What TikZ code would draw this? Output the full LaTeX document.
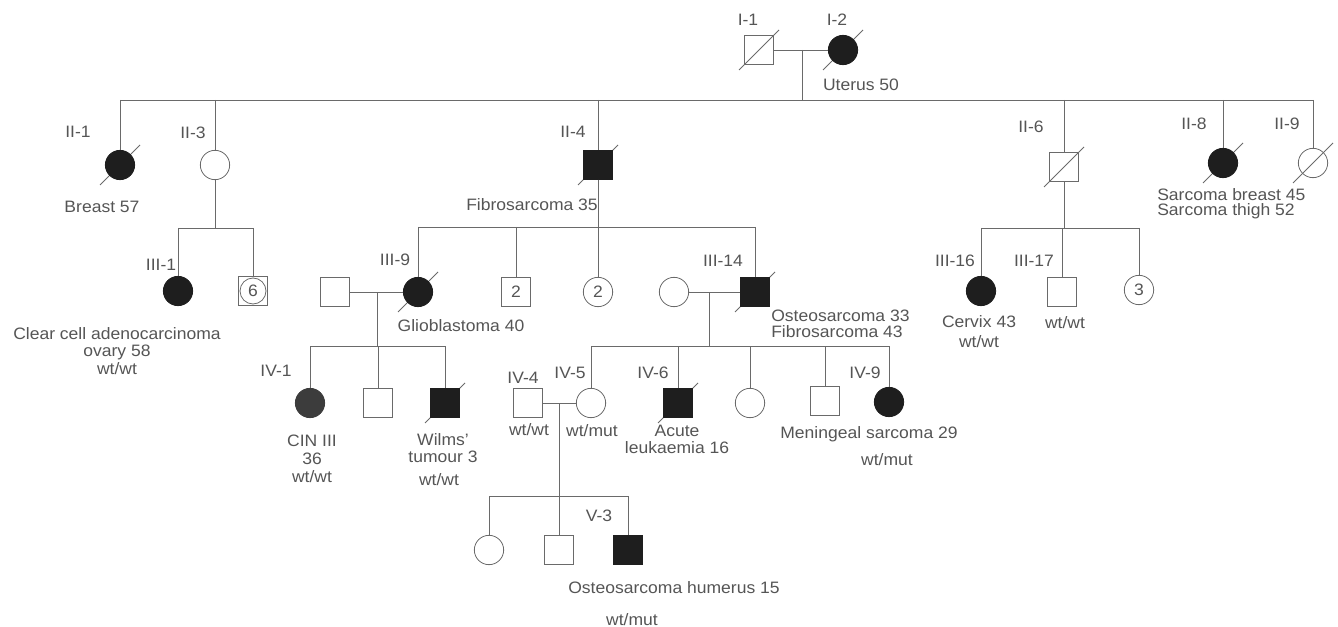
\documentclass[tikz,border=0pt]{standalone}
\usepackage{fontspec}
\setmainfont{Liberation Sans}[FakeStretch=1.06]
\definecolor{ln}{HTML}{6A6A6A}
\definecolor{tx}{HTML}{555555}
\definecolor{fl}{HTML}{1E1E1E}
\definecolor{flg}{HTML}{3C3C3C}
\pgfdeclarelayer{background}
\pgfsetlayers{background,main}
\newcommand\dead[1]{\begin{pgfonlayer}{background}\draw[slash] ([shift={(-20,20)}]#1.center) -- ([shift={(20,-20)}]#1.center);\end{pgfonlayer}}
\begin{document}
\begin{tikzpicture}[x=0.75pt,y=-0.75pt,
  every node/.style={inner sep=0pt},
  conn/.style={draw=ln, line width=0.6pt},
  male/.style={draw=ln, line width=0.6pt, rectangle, minimum size=21.5pt, text=tx, font=\fontsize{12.4}{13}\selectfont},
  female/.style={draw=ln, line width=0.6pt, circle, minimum size=22pt, text=tx, font=\fontsize{12.4}{13}\selectfont},
  aff/.style={fill=fl, draw=fl},
  idl/.style={text=tx, font=\fontsize{12.4}{13}\selectfont, align=center},
  slash/.style={draw=ln, line width=0.6pt}]
\useasboundingbox (0,0) rectangle (1338,627);

% ---------- Generation I
\node[male] (I1) at (759,50) {};
\node[female,aff] (I2) at (843,50) {};
\coordinate (mI) at (802,50);
\coordinate (sII) at (802,100);
\dead{I1}\dead{I2}
\node[idl] (lI1) at (748,20) {I-1};
\node[idl] (lI2) at (837,20) {I-2};
\node[idl] (tI2) at (861,85) {Uterus 50};
\draw[conn] (I1) -- (I2);
\draw[conn] (mI) -- (sII);

% ---------- Generation II
\node[female,aff] (II1) at (120,165) {};
\node[female] (II3) at (215,165) {};
\node[male,aff] (II4) at (598,165) {};
\node[male] (II6) at (1064,167) {};
\node[female,aff] (II8) at (1223,163) {};
\node[female] (II9) at (1313,163) {};
\dead{II1}\dead{II4}\dead{II6}\dead{II8}\dead{II9}
\draw[conn] (II1.north |- sII) -- (II9.north |- sII);
\foreach \n in {II1,II3,II4,II6,II8,II9} \draw[conn] (\n.north |- sII) -- (\n.north);
\node[idl] (lII1) at (78,132) {II-1};
\node[idl] (lII3) at (193,133) {II-3};
\node[idl] (lII4) at (573,132) {II-4};
\node[idl] (lII6) at (1031,127) {II-6};
\node[idl] (lII8) at (1194,124) {II-8};
\node[idl] (lII9) at (1287,124) {II-9};
\node[idl] (tII1) at (102,207) {Breast 57};
\node[idl] (tII4) at (532,205) {Fibrosarcoma 35};
\node[idl, align=left, anchor=west, font=\fontsize{12.4}{11.3}\selectfont] (tII8) at (1157,204) {Sarcoma breast 45\\Sarcoma thigh 52};

% ---------- Generation III
\coordinate (sIII3) at (215,228);
\coordinate (sIII4) at (598,227);
\coordinate (sIII6) at (1064,228);
\node[female,aff] (III1) at (178,291) {};
\node[male] (U6) at (253,291) {};
\node[circle, draw=ln, line width=0.6pt, minimum size=19.5pt, text=tx, font=\fontsize{12.4}{13}\selectfont] (U6c) at (U6.center) {6};
\node[male] (SP9) at (335,292) {};
\node[female,aff] (III9) at (418,292) {};
\node[male] (B2) at (516,292) {2};
\node[female] (C2) at (598,292) {2};
\node[female] (SP14) at (674,292) {};
\node[male,aff] (III14) at (755,292) {};
\node[female,aff] (III16) at (981,291) {};
\node[male] (III17) at (1062,292) {};
\node[female] (C3) at (1139,290) {3};
\dead{III9}\dead{III14}

\draw[conn] (II3) -- (sIII3);
\draw[conn] (III1.north |- sIII3) -- (U6.north |- sIII3);
\foreach \n in {III1,U6} \draw[conn] (\n.north |- sIII3) -- (\n.north);
\draw[conn] (II4) -- (sIII4);
\draw[conn] (III9.north |- sIII4) -- (III14.north |- sIII4);
\foreach \n in {III9,B2,C2,III14} \draw[conn] (\n.north |- sIII4) -- (\n.north);
\draw[conn] (II6) -- (sIII6);
\draw[conn] (III16.north |- sIII6) -- (C3.north |- sIII6);
\foreach \n in {III16,III17,C3} \draw[conn] (\n.north |- sIII6) -- (\n.north);

\node[idl] (lIII1) at (161,265) {III-1};
\node[idl] (lIII9) at (395,260) {III-9};
\node[idl] (lIII14) at (723,261) {III-14};
\node[idl] (lIII16) at (955,261) {III-16};
\node[idl] (lIII17) at (1034,261) {III-17};
\node[idl, font=\fontsize{12.4}{13.1}\selectfont] (tIII1) at (117,351) {Clear cell adenocarcinoma\\ovary 58\\wt/wt};
\node[idl] (tIII9) at (461,326) {Glioblastoma 40};
\node[idl, align=left, anchor=west, font=\fontsize{12.4}{12}\selectfont] (tIII14) at (771,324) {Osteosarcoma 33\\Fibrosarcoma 43};
\node[idl, font=\fontsize{12.4}{15}\selectfont] (tIII16) at (979,332) {Cervix 43\\wt/wt};
\node[idl] (tIII17) at (1065,323) {wt/wt};

% ---------- Generation IV
\coordinate (mIII9) at (377,292);
\coordinate (sIV9) at (377,346);
\coordinate (mIII14) at (709,292);
\coordinate (sIV14) at (709,346);
\draw[conn] (SP9) -- (III9);
\draw[conn] (mIII9) -- (sIV9);
\draw[conn] (SP14) -- (III14);
\draw[conn] (mIII14) -- (sIV14);

\node[female, fill=flg, draw=flg] (IV1) at (310,403) {};
\node[male] (IV2) at (378,403) {};
\node[male,aff] (IV3) at (445,403) {};
\node[male] (IV4) at (528,403) {};
\node[female] (IV5) at (591,403) {};
\node[male,aff] (IV6) at (678,403) {};
\node[female] (IV7) at (750,403) {};
\node[male] (IV8) at (825,401) {};
\node[female,aff] (IV9) at (889,402) {};
\dead{IV3}\dead{IV6}

\draw[conn] (IV1.north |- sIV9) -- (IV3.north |- sIV9);
\foreach \n in {IV1,IV2,IV3} \draw[conn] (\n.north |- sIV9) -- (\n.north);
\draw[conn] (IV5.north |- sIV14) -- (IV9.north |- sIV14);
\foreach \n in {IV5,IV6,IV7,IV8,IV9} \draw[conn] (\n.north |- sIV14) -- (\n.north);

\node[idl] (lIV1) at (276,371) {IV-1};
\node[idl] (lIV4) at (523,378) {IV-4};
\node[idl] (lIV5) at (570,373) {IV-5};
\node[idl] (lIV6) at (653,373) {IV-6};
\node[idl] (lIV9) at (865,373) {IV-9};
\node[idl, font=\fontsize{12.4}{13.5}\selectfont] (tIV1) at (312,459) {CIN III\\36\\wt/wt};
\node[idl, font=\fontsize{12.4}{12.8}\selectfont] (tIV3) at (443,448) {Wilms'\\tumour 3};
\node[idl] (tIV3b) at (439,480) {wt/wt};
\node[idl] (tIV4) at (529,430) {wt/wt};
\node[idl] (tIV5) at (592,431) {wt/mut};
\node[idl, font=\fontsize{12.4}{12.6}\selectfont] (tIV6) at (677,439) {Acute\\leukaemia 16};
\node[idl] (tIV9) at (869,434) {Meningeal sarcoma 29};
\node[idl] (tIV9b) at (887,460) {wt/mut};

% ---------- Generation V
\coordinate (mIV) at (559,403);
\coordinate (sV) at (559,496);
\draw[conn] (IV4) -- (IV5);
\node[female] (V1) at (489,550) {};
\node[male] (V2) at (559,550) {};
\node[male,aff] (V3) at (628,550) {};
\draw[conn] (mIV) -- (V2.north);
\draw[conn] (V1.north |- sV) -- (V3.north |- sV);
\foreach \n in {V1,V3} \draw[conn] (\n.north |- sV) -- (\n.north);
\node[idl] (lV3) at (599,516) {V-3};
\node[idl] (tV3) at (674,588) {Osteosarcoma humerus 15};
\node[idl] (tV3b) at (632,620) {wt/mut};
\end{tikzpicture}
\end{document}
